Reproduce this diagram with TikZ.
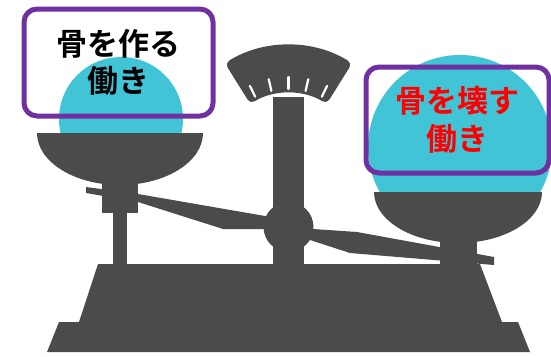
\documentclass[tikz,border=0pt]{standalone}
\usepackage{fontspec}
\newfontfamily\jpfont{Noto Sans CJK JP}[BoldFont={Noto Sans CJK JP Bold}]
\usepackage{tikz}
\usepackage{xcolor}
\definecolor{scalegray}{RGB}{75,75,75}
\definecolor{ballcyan}{RGB}{64,196,214}
\definecolor{boxpurple}{RGB}{112,48,160}
\tikzstyle{metal} = [fill=scalegray]
\tikzstyle{ball} = [fill=ballcyan]
\tikzstyle{tagbox} = [rectangle, rounded corners=13pt, draw=boxpurple, line width=5pt, align=center, inner sep=0pt, font=\jpfont\bfseries\fontsize{31}{37.5}\selectfont]

\begin{document}
\begin{tikzpicture}[x=1pt, y=-1pt]
\useasboundingbox (0,0) rectangle (551,356);
% balls resting in the pans
\begin{scope}
\clip (0,0) rectangle (551,133);
\fill[ball] (121,119) circle (62pt);
\end{scope}
\begin{scope}
\clip (0,0) rectangle (551,192);
\fill[ball] (460,147) circle (92pt);
\end{scope}
% pans
\begin{scope}
\clip (0,133) rectangle (551,200);
\fill[metal] (120,133) ellipse [x radius=83pt, y radius=52pt];
\end{scope}
\begin{scope}
\clip (0,192) rectangle (551,260);
\fill[metal] (458,192) ellipse [x radius=84pt, y radius=51pt];
\end{scope}
% stems under the pans
\fill[metal] (102,183) rectangle (138,213);
\fill[metal] (113,210) rectangle (127,266);
\fill[metal] (440,241) rectangle (477,266);
% column and dial head
\fill[metal] (273,97) rectangle (304,266);
\fill[metal, rounded corners=5pt] ([shift={(288.5,165)}]122:120pt) arc[start angle=122, end angle=58, radius=120pt]
  -- ([shift={(288.5,165)}]58:72pt) arc[start angle=58, end angle=122, radius=72pt] -- cycle;
\foreach \a in {64,77,90,103,116}
  \draw[white, line width=2.2pt, line cap=round] ([shift={(288.5,165)}]\a:76pt) -- ([shift={(288.5,165)}]\a:88pt);
% beam and pivot
\fill[metal] (86,187) -- (138,194) -- (265,216) -- (313,229) -- (357,232) -- (494,257) -- (494,265)
  -- (350,253) -- (310,240) -- (263,229) -- (223,229) -- (138,202) -- (86,193) -- cycle;
\fill[metal] (288.5,227) circle (25pt);
% base
\fill[metal] (98,264) -- (480,264) -- (502,322) -- (518,322) -- (530,352) -- (47,352) -- (59,322) -- (79,322) -- cycle;
% labels
\node[tagbox, minimum width=189pt, minimum height=107pt] (build) at (118.5,62.5) {骨を作る\\働き};
\node[tagbox, minimum width=183pt, minimum height=106pt, text=red] (resorb) at (457.5,120) {骨を壊す\\働き};
\end{tikzpicture}
\end{document}
